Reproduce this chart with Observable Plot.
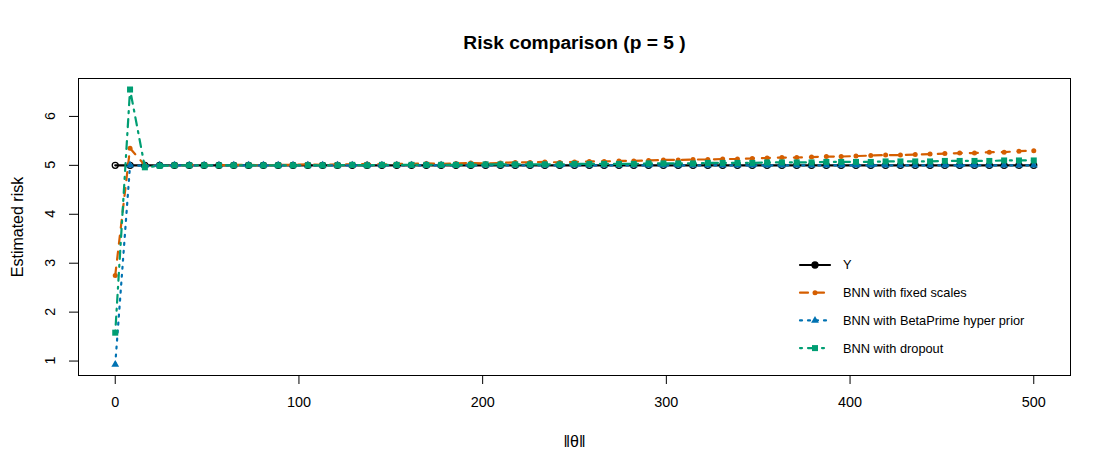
<!DOCTYPE html>
<html><head><meta charset="utf-8">
<script src="https://cdn.jsdelivr.net/npm/d3@7"></script>
<script src="https://cdn.jsdelivr.net/npm/@observablehq/plot@0.6"></script>
<style>html,body{margin:0;padding:0;background:#fff}</style>
</head><body><div id="chart"></div><script>
// ---- data ----
const theta = [0, 8.06, 16.13, 24.19, 32.26, 40.32, 48.39, 56.45, 64.52, 72.58,
  80.65, 88.71, 96.77, 104.84, 112.9, 120.97, 129.03, 137.1, 145.16, 153.23,
  161.29, 169.35, 177.42, 185.48, 193.55, 201.61, 209.68, 217.74, 225.81, 233.87,
  241.94, 250, 258.06, 266.13, 274.19, 282.26, 290.32, 298.39, 306.45, 314.52,
  322.58, 330.65, 338.71, 346.77, 354.84, 362.9, 370.97, 379.03, 387.1, 395.16,
  403.23, 411.29, 419.35, 427.42, 435.48, 443.55, 451.61, 459.68, 467.74, 475.81,
  483.87, 491.94, 500];
const riskY = [5,5,5,5,5,5,5,5,5,5, 5,5,5,5,5,5,5,5,5,5, 5,5,5,5,5,5,5,5,5,5,
  5,5,5,5,5,5,5,5,5,5, 5,5,5,5,5,5,5,5,5,5, 5,5,5,5,5,5,5,5,5,5, 5,5,5];
const riskFixed = [2.75, 5.35, 5.00, 4.99, 5.00, 5.00, 5.01, 5.00, 5.01, 5.01,
  5.00, 5.01, 5.01, 5.02, 5.01, 5.02, 5.02, 5.03, 5.02, 5.03,
  5.03, 5.04, 5.03, 5.04, 5.05, 5.04, 5.05, 5.06, 5.06, 5.07,
  5.06, 5.07, 5.08, 5.08, 5.09, 5.09, 5.10, 5.11, 5.11, 5.12,
  5.12, 5.13, 5.13, 5.14, 5.15, 5.16, 5.16, 5.17, 5.18, 5.18,
  5.19, 5.20, 5.21, 5.21, 5.22, 5.23, 5.24, 5.25, 5.25, 5.27,
  5.27, 5.29, 5.30];
const riskBeta = [0.93, 5.00, 4.99, 5.00, 5.00, 5.00, 5.00, 5.00, 5.00, 5.00,
  5.00, 5.00, 5.00, 5.00, 5.00, 5.00, 5.00, 5.00, 5.00, 5.00,
  5.00, 5.00, 5.00, 5.00, 5.00, 5.00, 5.00, 5.00, 5.00, 5.00,
  5.00, 5.00, 5.00, 5.00, 5.00, 5.00, 5.00, 5.00, 5.00, 5.00,
  5.00, 5.00, 5.00, 5.00, 5.00, 5.00, 5.00, 5.00, 5.00, 5.00,
  5.00, 5.00, 5.00, 5.00, 5.00, 5.00, 5.00, 5.00, 5.00, 5.00,
  5.00, 5.00, 5.00];
const riskDropout = [1.58, 6.55, 4.96, 4.99, 5.00, 5.00, 5.00, 5.00, 5.00, 5.00,
  5.00, 5.00, 5.00, 5.00, 5.00, 5.00, 5.01, 5.00, 5.01, 5.01,
  5.01, 5.01, 5.01, 5.01, 5.01, 5.02, 5.02, 5.02, 5.02, 5.02,
  5.02, 5.03, 5.03, 5.03, 5.03, 5.03, 5.04, 5.04, 5.04, 5.04,
  5.05, 5.05, 5.05, 5.05, 5.06, 5.06, 5.06, 5.06, 5.07, 5.07,
  5.07, 5.07, 5.08, 5.08, 5.08, 5.08, 5.09, 5.09, 5.09, 5.09,
  5.10, 5.10, 5.10];
const xTicks = [0, 100, 200, 300, 400, 500];
const yTicks = [1, 2, 3, 4, 5, 6];
const seriesNames = ["Y", "BNN with fixed scales", "BNN with BetaPrime hyper prior", "BNN with dropout"];
const titleText = "Risk comparison (p = 5 )";
const xLabel = "\u2016\u03b8\u2016";
const yLabel = "Estimated risk";

// ---- styles ----
const colors = ["#000000", "#D55E00", "#0072B2", "#009E73"];
const dashes = [null, "8,8", "2,6", "2,6,8,6"];
const symbols = ["circle", "circle", "triangle", "square"];
const radii = [3, 2.5, 2.9, 3.4];
const fills = ["none", colors[1], colors[2], colors[3]];
const strokes = ["#000", "none", "none", "none"];
const FONT = "'Liberation Sans', Arial, Helvetica, sans-serif";

const seriesVals = [riskY, riskFixed, riskBeta, riskDropout];
const rows = seriesVals.map(vals => theta.map((t, i) => ({t, v: vals[i]})));

const centered = {textAnchor: "middle", lineAnchor: "middle", fill: "#000"};
const marks = [];
marks.push(Plot.frame({stroke: "#000", strokeWidth: 1}));
marks.push(Plot.axisX({ticks: xTicks, tickSize: 9, tickPadding: 12, label: null, fontSize: 14.4, tickFormat: d => String(d)}));
marks.push(Plot.axisY({ticks: yTicks, tickSize: 9, label: null, tickFormat: () => "", fontSize: 0.01}));
marks.push(Plot.text([titleText], {...centered, text: d => d, frameAnchor: "top", dy: -36, fontSize: 19.2, fontWeight: "bold"}));
marks.push(Plot.text([xLabel], {...centered, text: d => d, frameAnchor: "bottom", dy: 66, fontSize: 16}));
marks.push(Plot.text([yLabel], {...centered, text: d => d, frameAnchor: "left", dx: -61, rotate: -90, fontSize: 16}));
rows.forEach((r, k) => {
  marks.push(Plot.line(r, {x: "t", y: "v", stroke: colors[k], strokeWidth: 2.2, strokeDasharray: dashes[k] || undefined, strokeLinecap: "round"}));
  marks.push(Plot.dot(r, {x: "t", y: "v", symbol: symbols[k], r: radii[k], fill: fills[k], stroke: strokes[k], strokeWidth: 1.3}));
});

const svg = Plot.plot({
  width: 1109, height: 473,
  marginLeft: 78, marginRight: 39, marginTop: 78, marginBottom: 98,
  x: {domain: [-20, 520]},
  y: {domain: [0.7048, 6.7752]},
  style: {fontFamily: FONT, color: "#000", background: "#fff"},
  marks
});
document.getElementById("chart").appendChild(svg);

// ---- rotated y tick labels, positioned with Plot's own y scale ----
const yScale = svg.scale("y");
const lab = d3.select(svg).append("g").attr("font-family", FONT).attr("font-size", 14.4).attr("text-anchor", "middle").attr("fill", "#000");
yTicks.forEach(v => {
  lab.append("text").attr("transform", `translate(50,${yScale.apply(v)}) rotate(-90)`).attr("dy", "0.35em").text(String(v));
});

// ---- legend (inside plot area, no box) ----
const g = d3.select(svg).append("g").attr("font-family", FONT).attr("font-size", 12.8).attr("text-anchor", "start");
const symGen = {circle: d3.symbolCircle, triangle: d3.symbolTriangle, square: d3.symbolSquare};
seriesNames.forEach((name, k) => {
  const y = 265 + k * 27.7;
  const line = g.append("line").attr("x1", 800).attr("x2", 830).attr("y1", y).attr("y2", y)
    .attr("stroke", colors[k]).attr("stroke-width", 2.2).attr("stroke-linecap", "round");
  if (dashes[k]) line.attr("stroke-dasharray", dashes[k]);
  g.append("path").attr("transform", `translate(815,${y})`)
    .attr("d", d3.symbol(symGen[symbols[k]], Math.PI * radii[k] * radii[k])())
    .attr("fill", k === 0 ? "#000" : fills[k]).attr("stroke", strokes[k]).attr("stroke-width", 1.3);
  g.append("text").attr("x", 843).attr("y", y).attr("dy", "0.35em").attr("text-anchor", "start").attr("fill", "#000").text(name);
});
</script></body></html>
